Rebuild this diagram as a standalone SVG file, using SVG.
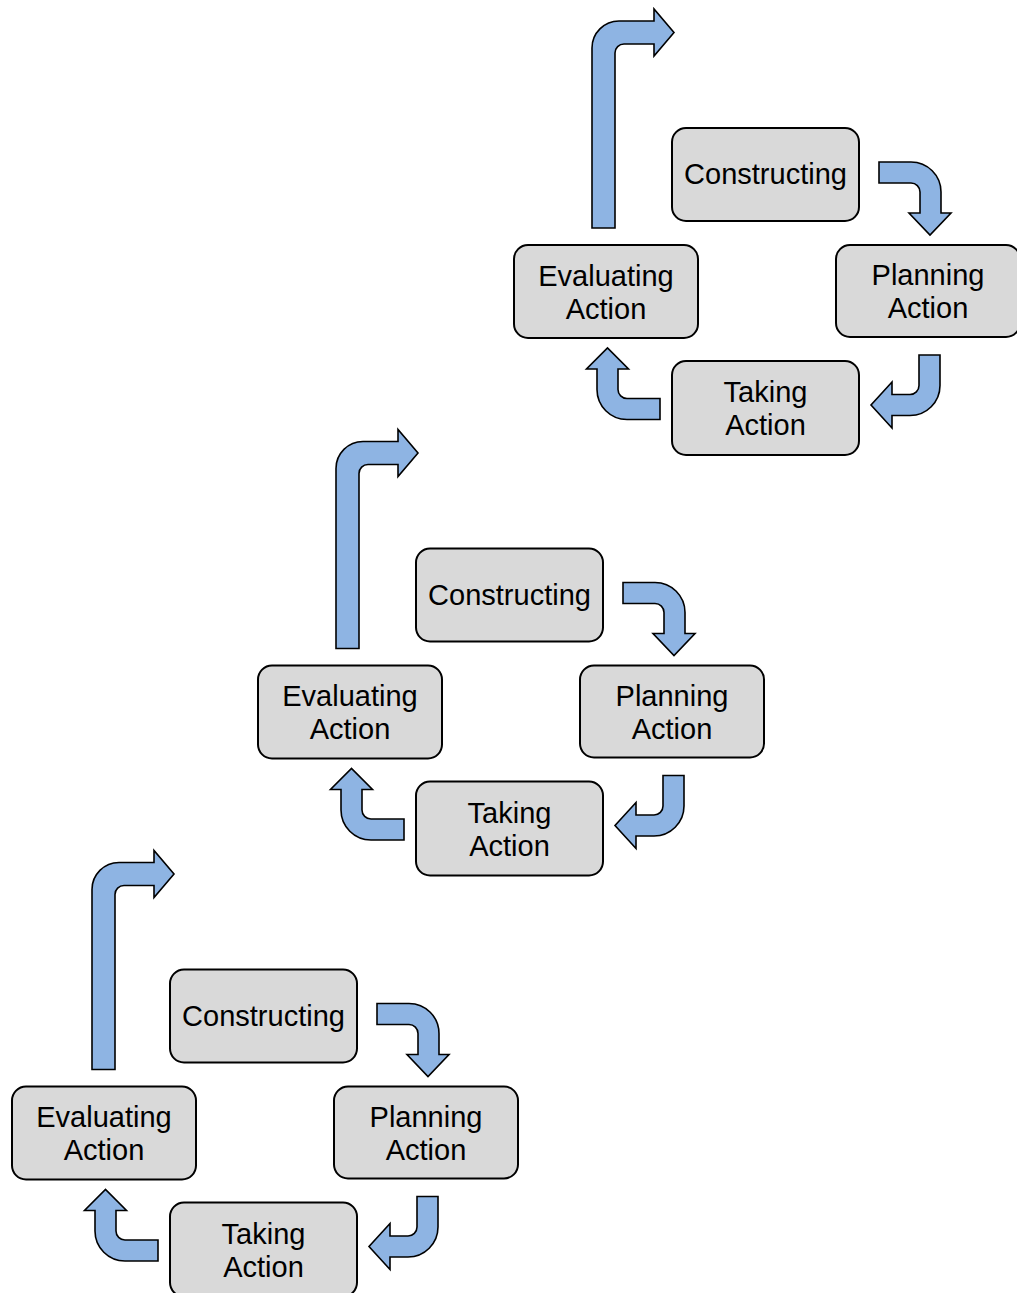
<svg xmlns="http://www.w3.org/2000/svg" xmlns:xlink="http://www.w3.org/1999/xlink" width="1017" height="1293" viewBox="0 0 1017 1293">
  <style>
    .box { fill: #d9d9d9; stroke: #000; stroke-width: 2; }
    .lbl { font-family: "Liberation Sans", Arial, sans-serif; font-size: 29px; fill: #000; text-anchor: middle; }
    .arrow { fill: #8eb4e3; stroke: #000; stroke-width: 1.6; stroke-linejoin: miter; }
  </style>
  <defs>
    <!-- block arrows, drawn in the coordinates of the upper cycle -->
    <path id="arrow-up" class="arrow" d="M 592 228 L 592 48 A 27 27 0 0 1 619 21 L 654 21 L 654 9 L 674 32.5 L 654 56 L 654 44 L 624 44 A 9 9 0 0 0 615 53 L 615 228 Z"/>
    <path id="arrow-c-p" class="arrow" d="M 879 162 L 911 162 A 30 30 0 0 1 941 192 L 941 213 L 951 213 L 930 235 L 909 213 L 920 213 L 920 192 A 9 9 0 0 0 911 183 L 879 183 Z"/>
    <path id="arrow-p-t" class="arrow" d="M 919 355 L 940 355 L 940 385.5 A 30 30 0 0 1 910 415.5 L 892 415.5 L 892 428 L 871 405 L 892 382 L 892 394.5 L 910 394.5 A 9 9 0 0 0 919 385.5 Z"/>
    <path id="arrow-t-e" class="arrow" d="M 660 398.5 L 660 419.5 L 627 419.5 A 30 30 0 0 1 597 389.5 L 597 369 L 586.5 369 L 607.5 348 L 628.5 369 L 618 369 L 618 389.5 A 9 9 0 0 0 627 398.5 Z"/>
  </defs>

  <g id="connectors">
    <!-- upper cycle -->
    <use xlink:href="#arrow-up"/>
    <use xlink:href="#arrow-c-p"/>
    <use xlink:href="#arrow-p-t"/>
    <use xlink:href="#arrow-t-e"/>
    <!-- middle cycle -->
    <g transform="translate(-256 420.5)">
      <use xlink:href="#arrow-up"/>
      <use xlink:href="#arrow-c-p"/>
      <use xlink:href="#arrow-p-t"/>
      <use xlink:href="#arrow-t-e"/>
    </g>
    <!-- lower cycle -->
    <g transform="translate(-502 841.5)">
      <use xlink:href="#arrow-up" transform="translate(2 0)"/>
      <use xlink:href="#arrow-c-p"/>
      <use xlink:href="#arrow-p-t"/>
      <use xlink:href="#arrow-t-e"/>
    </g>
  </g>

  <!-- upper cycle -->
  <g id="constructing-1">
    <rect class="box" x="672" y="128" width="187" height="93" rx="14"/>
    <text class="lbl" x="765.5" y="184">Constructing</text>
  </g>
  <g id="planning-1">
    <rect class="box" x="836" y="245" width="184" height="92" rx="14"/>
    <text class="lbl" x="928" y="285">Planning</text>
    <text class="lbl" x="928" y="318">Action</text>
  </g>
  <g id="taking-1">
    <rect class="box" x="672" y="361" width="187" height="94" rx="14"/>
    <text class="lbl" x="765.5" y="402">Taking</text>
    <text class="lbl" x="765.5" y="435">Action</text>
  </g>
  <g id="evaluating-1">
    <rect class="box" x="514" y="245" width="184" height="93" rx="14"/>
    <text class="lbl" x="606" y="285.5">Evaluating</text>
    <text class="lbl" x="606" y="318.5">Action</text>
  </g>

  <!-- middle cycle -->
  <g id="constructing-2">
    <rect class="box" x="416" y="548.5" width="187" height="93" rx="14"/>
    <text class="lbl" x="509.5" y="604.5">Constructing</text>
  </g>
  <g id="planning-2">
    <rect class="box" x="580" y="665.5" width="184" height="92" rx="14"/>
    <text class="lbl" x="672" y="705.5">Planning</text>
    <text class="lbl" x="672" y="738.5">Action</text>
  </g>
  <g id="taking-2">
    <rect class="box" x="416" y="781.5" width="187" height="94" rx="14"/>
    <text class="lbl" x="509.5" y="822.5">Taking</text>
    <text class="lbl" x="509.5" y="855.5">Action</text>
  </g>
  <g id="evaluating-2">
    <rect class="box" x="258" y="665.5" width="184" height="93" rx="14"/>
    <text class="lbl" x="350" y="706">Evaluating</text>
    <text class="lbl" x="350" y="739">Action</text>
  </g>

  <!-- lower cycle -->
  <g id="constructing-3">
    <rect class="box" x="170" y="969.5" width="187" height="93" rx="14"/>
    <text class="lbl" x="263.5" y="1025.5">Constructing</text>
  </g>
  <g id="planning-3">
    <rect class="box" x="334" y="1086.5" width="184" height="92" rx="14"/>
    <text class="lbl" x="426" y="1126.5">Planning</text>
    <text class="lbl" x="426" y="1159.5">Action</text>
  </g>
  <g id="taking-3">
    <rect class="box" x="170" y="1202.5" width="187" height="94" rx="14"/>
    <text class="lbl" x="263.5" y="1243.5">Taking</text>
    <text class="lbl" x="263.5" y="1276.5">Action</text>
  </g>
  <g id="evaluating-3">
    <rect class="box" x="12" y="1086.5" width="184" height="93" rx="14"/>
    <text class="lbl" x="104" y="1127">Evaluating</text>
    <text class="lbl" x="104" y="1160">Action</text>
  </g>
</svg>
